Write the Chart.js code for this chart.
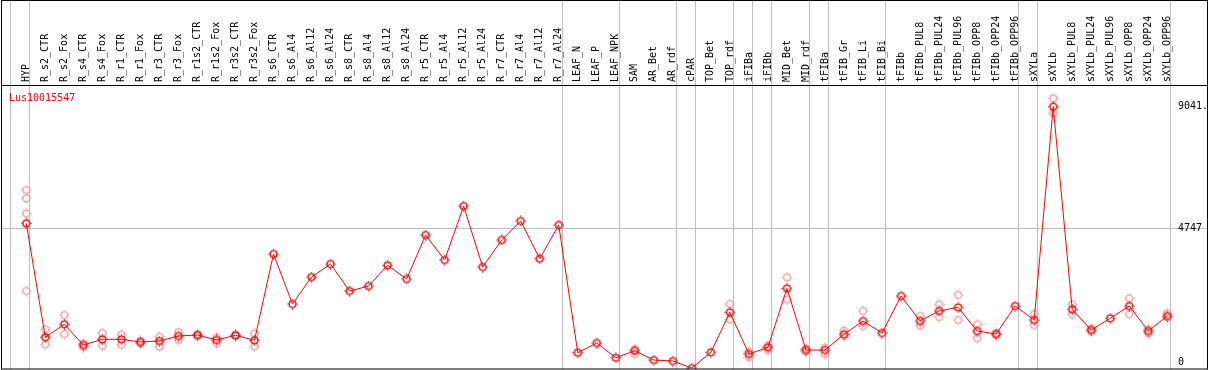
<!DOCTYPE html>
<html>
<head>
<meta charset="utf-8">
<script src="https://cdn.jsdelivr.net/npm/chart.js@4.4.0/dist/chart.umd.min.js"></script>
<style>
  html, body { margin: 0; padding: 0; background: #fff; }
</style>
</head>
<body>
<canvas id="myChart" width="1209" height="370"></canvas>
<script>
var geneName = 'Lus10015547';

var sampleNames = ['HYP','R_s2_CTR','R_s2_Fox','R_s4_CTR','R_s4_Fox','R_r1_CTR','R_r1_Fox','R_r3_CTR','R_r3_Fox',
  'R_r1s2_CTR','R_r1s2_Fox','R_r3s2_CTR','R_r3s2_Fox','R_s6_CTR','R_s6_Al4','R_s6_Al12','R_s6_Al24',
  'R_s8_CTR','R_s8_Al4','R_s8_Al12','R_s8_Al24','R_r5_CTR','R_r5_Al4','R_r5_Al12','R_r5_Al24',
  'R_r7_CTR','R_r7_Al4','R_r7_Al12','R_r7_Al24','LEAF_N','LEAF_P','LEAF_NPK','SAM','AR_Bet','AR_rdf',
  'cPAR','TOP_Bet','TOP_rdf','iFIBa','iFIBb','MID_Bet','MID_rdf','tFIBa','tFIB_Gr','tFIB_Li','tFIB_Bi',
  'tFIBb','tFIBb_PUL8','tFIBb_PUL24','tFIBb_PUL96','tFIBb_OPP8','tFIBb_OPP24','tFIBb_OPP96',
  'sXYLa','sXYLb','sXYLb_PUL8','sXYLb_PUL24','sXYLb_PUL96','sXYLb_OPP8','sXYLb_OPP24','sXYLb_OPP96'];

// mean expression per sample
var meanValues = [4922, 897, 1356, 625, 826, 826, 731, 766, 943, 978, 802, 968, 791,
  3838, 2073, 3026, 3485, 2532, 2708, 3439, 2956, 4509, 3626, 5533, 3379, 4333, 5004, 3672, 4862,
  353, 696, 177, 424, 95, 60, -190, 367, 1780, 307, 544, 2627, 448, 448, 1003, 1472, 1049,
  2355, 1472, 1826, 1956, 1119, 1013, 2002, 1508, 9041, 1886, 1155, 1568, 2002, 1119, 1649];

// replicates (null = not shown)
var rep1 = [6098, 1179, 1684, 685, 1049, 989, 777, 918, 1084, 1013, 883, 996, 1024,
  null, null, null, null, null, null, null, null, null, null, null, null, null, null, null, null,
  null, null, null, 473, null, null, null, null, 2073, 388, 600, 3016, 508, 530, 1130, 1826, null,
  null, 1649, 2062, 2391, 1356, 1049, null, 1720, 9336, 2062, 1215, null, 2274, 1179, 1744];
var rep2 = [2532, 650, 1013, 544, 600, 636, 685, 565, 802, 943, 696, 943, 579,
  null, null, null, null, null, null, null, null, null, null, null, null, null, null, null, null,
  null, null, null, 307, null, null, null, null, 1532, 191, 448, 2239, 388, 307, 943, 1296, null,
  null, 1306, 1614, 1508, 862, 978, null, 1331, 8806, 1709, 1095, null, 1720, 1038, 1603];
var extraRepIndex = [0, 0];
var extraRepValues = [5805, 5275];

var axisTicks = [0, 4747, 9041];
var axisTickText = ['0', '4747', '9041.'];
var groupBreaks = [-1, 0, 28, 31, 34, 35, 37, 38, 39, 41, 42, 45, 52, 53, 60];

var meanPoints = meanValues.map(function (v, i) { return { x: i, y: v }; });
var repPoints = [];
[rep1, rep2].forEach(function (arr) {
  arr.forEach(function (v, i) { if (v !== null) repPoints.push({ x: i, y: v }); });
});
extraRepIndex.forEach(function (i, k) { repPoints.push({ x: i, y: extraRepValues[k] }); });

function makeMarker(color) {
  var c = document.createElement('canvas');
  c.width = 11; c.height = 11;
  var g = c.getContext('2d');
  g.strokeStyle = color;
  g.lineWidth = 1.4;
  g.beginPath();
  g.arc(5.5, 5.5, 3.4, 0, Math.PI * 2);
  g.stroke();
  g.fillStyle = color;
  g.fillRect(5, 0.3, 1, 1.3);
  g.fillRect(5, 9.4, 1, 1.3);
  g.fillRect(0.3, 5, 1.3, 1);
  g.fillRect(9.4, 5, 1.3, 1);
  return c;
}
var redMarker = makeMarker('#ff0000');
var pinkMarker = makeMarker('#f0a0a0');

var sepColor = '#c0c0c0';
var font = { family: 'DejaVu Sans Mono', size: 10 };

var framePlugin = {
  id: 'frame',
  afterDraw: function (chart) {
    var ctx = chart.ctx, a = chart.chartArea;
    ctx.save();
    ctx.strokeStyle = '#000';
    ctx.lineWidth = 1;
    ctx.strokeRect(1.5, 0.5, chart.width - 3, chart.height - 1.5);
    ctx.beginPath();
    ctx.moveTo(1, a.top + 0.5);
    ctx.lineTo(chart.width - 1, a.top + 0.5);
    ctx.stroke();
    ctx.fillStyle = '#ff0000';
    ctx.font = '10px "DejaVu Sans Mono"';
    ctx.textBaseline = 'alphabetic';
    ctx.fillText(geneName, a.left + 8, a.top + 16);
    ctx.restore();
  }
};

function isBreak(v) { return !Number.isInteger(Math.round(v * 1000) / 1000); }

var chart = new Chart(document.getElementById('myChart'), {
  type: 'line',
  data: {
    datasets: [{
      data: meanPoints,
      borderColor: '#ff0000',
      borderWidth: 1,
      pointStyle: redMarker,
      pointRadius: 4,
      tension: 0
    }, {
      data: repPoints,
      showLine: false,
      pointStyle: pinkMarker,
      pointRadius: 4
    }]
  },
  plugins: [framePlugin],
  options: {
    responsive: false,
    animation: false,
    layout: { autoPadding: false, padding: { left: 1, bottom: 1, top: 0, right: 0 } },
    plugins: { legend: { display: false }, tooltip: { enabled: false } },
    scales: {
      x: {
        type: 'linear',
        position: 'top',
        min: -1.33,
        max: 60.51,
        afterBuildTicks: function (scale) {
          var t = sampleNames.map(function (n, i) { return { value: i }; });
          groupBreaks.forEach(function (b) { t.push({ value: b + 0.18 }); });
          t.sort(function (p, q) { return p.value - q.value; });
          scale.ticks = t;
        },
        afterFit: function (scale) {
          scale.height = 85;
          scale.paddingLeft = 0;
          scale.paddingRight = 0;
        },
        ticks: {
          autoSkip: false,
          minRotation: 90,
          maxRotation: 90,
          padding: -82,
          labelOffset: 12,
          color: '#000',
          font: font,
          callback: function (v) { return isBreak(v) ? '' : sampleNames[Math.round(v)]; }
        },
        grid: {
          color: function (c) { return c.tick && isBreak(c.tick.value) ? sepColor : 'rgba(0,0,0,0)'; },
          tickColor: function (c) { return c.tick && isBreak(c.tick.value) ? sepColor : 'rgba(0,0,0,0)'; },
          tickLength: 85,
          lineWidth: 1
        },
        border: { display: false }
      },
      y: {
        type: 'linear',
        position: 'right',
        min: -222,
        max: 9806,
        afterBuildTicks: function (scale) {
          scale.ticks = axisTicks.map(function (v) { return { value: v }; });
        },
        afterFit: function (scale) {
          scale.width = 32;
          scale.paddingTop = 0;
          scale.paddingBottom = 0;
        },
        ticks: {
          padding: -29,
          color: '#000',
          font: font,
          callback: function (v) { return axisTickText[axisTicks.indexOf(v)]; }
        },
        grid: {
          color: function (c) { return c.tick && c.tick.value === 4747 ? sepColor : 'rgba(0,0,0,0)'; },
          tickColor: function (c) { return c.tick && c.tick.value === 4747 ? sepColor : 'rgba(0,0,0,0)'; },
          tickLength: 30,
          lineWidth: 1
        },
        border: { display: false }
      }
    }
  }
});
</script>
</body>
</html>
